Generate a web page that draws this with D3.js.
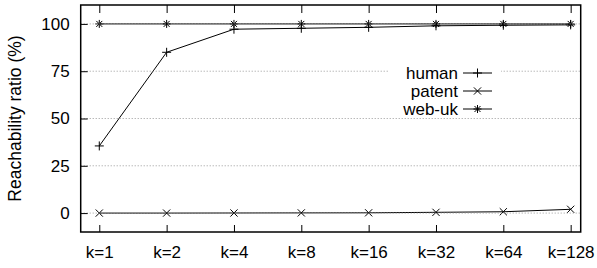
<!DOCTYPE html>
<html>
<head>
<meta charset="utf-8">
<script src="https://cdn.jsdelivr.net/npm/d3@7"></script>
<style>
  body { margin: 0; background: #fff; }
  text { font-family: "Liberation Sans", Arial, sans-serif; font-size: 17px; fill: #000; }
</style>
</head>
<body>
<div id="chart"></div>
<script>
// data
const kLabels = ["k=1", "k=2", "k=4", "k=8", "k=16", "k=32", "k=64", "k=128"];
const human  = [35.5, 85.0, 97.2, 97.7, 98.2, 99.0, 99.3, 99.5];
const patent = [0, 0, 0.05, 0.1, 0.15, 0.4, 0.7, 2.0];
const webuk  = [100, 100, 100, 100, 100, 100, 100, 100];
const yTicks = [0, 25, 50, 75, 100];

const series = [
  { name: "human",  values: human,  mark: "plus" },
  { name: "patent", values: patent, mark: "cross" },
  { name: "web-uk", values: webuk,  mark: "star" }
];

const w = 597, h = 268;
// plot frame
const frame = { left: 80.7, right: 580.7, top: 5, bottom: 232 };

const svg = d3.select("#chart").append("svg")
    .attr("width", w)
    .attr("height", h);

const x = d3.scaleLinear().domain([-0.276, 7.149]).range([frame.left, frame.right]);
const y = d3.scaleLinear().domain([-10, 110]).range([frame.bottom, frame.top]);

// markers as paths centred on 0,0
function markPath(type) {
  const p = d3.path();
  if (type === "plus" || type === "star") {
    const s = type === "plus" ? 4.5 : 4;
    p.moveTo(-s, 0); p.lineTo(s, 0);
    p.moveTo(0, -s); p.lineTo(0, s);
  }
  if (type === "cross" || type === "star") {
    const s = type === "cross" ? 3.6 : 3;
    p.moveTo(-s, -s); p.lineTo(s, s);
    p.moveTo(-s, s); p.lineTo(s, -s);
  }
  return p.toString();
}

const line = d3.line()
    .x((d, i) => x(i))
    .y(d => y(d));

// ========== data lines ==========
const g = svg.append("g");
series.forEach(s => {
  g.append("path")
    .attr("d", line(s.values))
    .attr("fill", "none")
    .attr("stroke", "#000")
    .attr("stroke-width", 1);

  g.selectAll(null)
    .data(s.values)
    .enter()
    .append("path")
    .attr("transform", (d, i) => `translate(${x(i)},${y(d)})`)
    .attr("d", markPath(s.mark))
    .attr("fill", "none")
    .attr("stroke", "#000")
    .attr("stroke-width", 1);
});

// ========== grid (drawn in front, gnuplot style) ==========
svg.append("g")
  .selectAll("line")
  .data(yTicks)
  .enter()
  .append("line")
    .attr("x1", frame.left).attr("x2", frame.right)
    .attr("y1", d => y(d)).attr("y2", d => y(d))
    .attr("stroke", "#9a9a9a")
    .attr("stroke-width", 1)
    .attr("stroke-dasharray", "1,2");

// ========== axes ==========
const xAxisB = d3.axisBottom(x)
    .tickValues(d3.range(kLabels.length))
    .tickFormat(i => kLabels[i])
    .tickSizeInner(-7).tickSizeOuter(0).tickPadding(14);

const xAxisT = d3.axisTop(x)
    .tickValues(d3.range(kLabels.length))
    .tickFormat("")
    .tickSizeInner(-8).tickSizeOuter(0);

const yAxis = d3.axisLeft(y)
    .tickValues(yTicks)
    .tickSizeInner(-7).tickSizeOuter(0).tickPadding(11);

svg.append("g").attr("transform", `translate(0,${frame.bottom})`).call(xAxisB);
svg.append("g").attr("transform", `translate(0,${frame.top})`).call(xAxisT);
svg.append("g").attr("transform", `translate(${frame.left},0)`).call(yAxis);

svg.selectAll(".domain").remove();
svg.selectAll(".tick line").attr("stroke", "#000").attr("stroke-width", 1);
svg.selectAll(".tick text")
  .style("font-family", "'Liberation Sans', Arial, sans-serif")
  .style("font-size", "17px")
  .attr("fill", "#000");

// frame
svg.append("rect")
  .attr("x", frame.left).attr("y", frame.top)
  .attr("width", frame.right - frame.left).attr("height", frame.bottom - frame.top)
  .attr("fill", "none")
  .attr("stroke", "#000")
  .attr("stroke-width", 1.5);

// y title
svg.append("text")
  .attr("transform", `translate(21,${(frame.top + frame.bottom) / 2}) rotate(-90)`)
  .attr("text-anchor", "middle")
  .style("font-size", "17.5px")
  .text("Reachability ratio (%)");

// ========== legend ==========
const legX = 458, legY = 73, legStep = 18;
const leg = svg.append("g");
leg.append("rect")
  .attr("x", 389).attr("y", legY - 10)
  .attr("width", 112).attr("height", legStep * 3 + 1)
  .attr("fill", "#fff");

series.forEach((s, i) => {
  const yy = legY + i * legStep;
  leg.append("text")
    .attr("x", legX).attr("y", yy)
    .attr("dy", "0.35em")
    .attr("text-anchor", "end")
    .text(s.name);
  leg.append("line")
    .attr("x1", legX + 5).attr("x2", legX + 34)
    .attr("y1", yy).attr("y2", yy)
    .attr("stroke", "#000");
  leg.append("path")
    .attr("transform", `translate(${legX + 19.5},${yy})`)
    .attr("d", markPath(s.mark))
    .attr("fill", "none")
    .attr("stroke", "#000");
});
</script>
</body>
</html>
